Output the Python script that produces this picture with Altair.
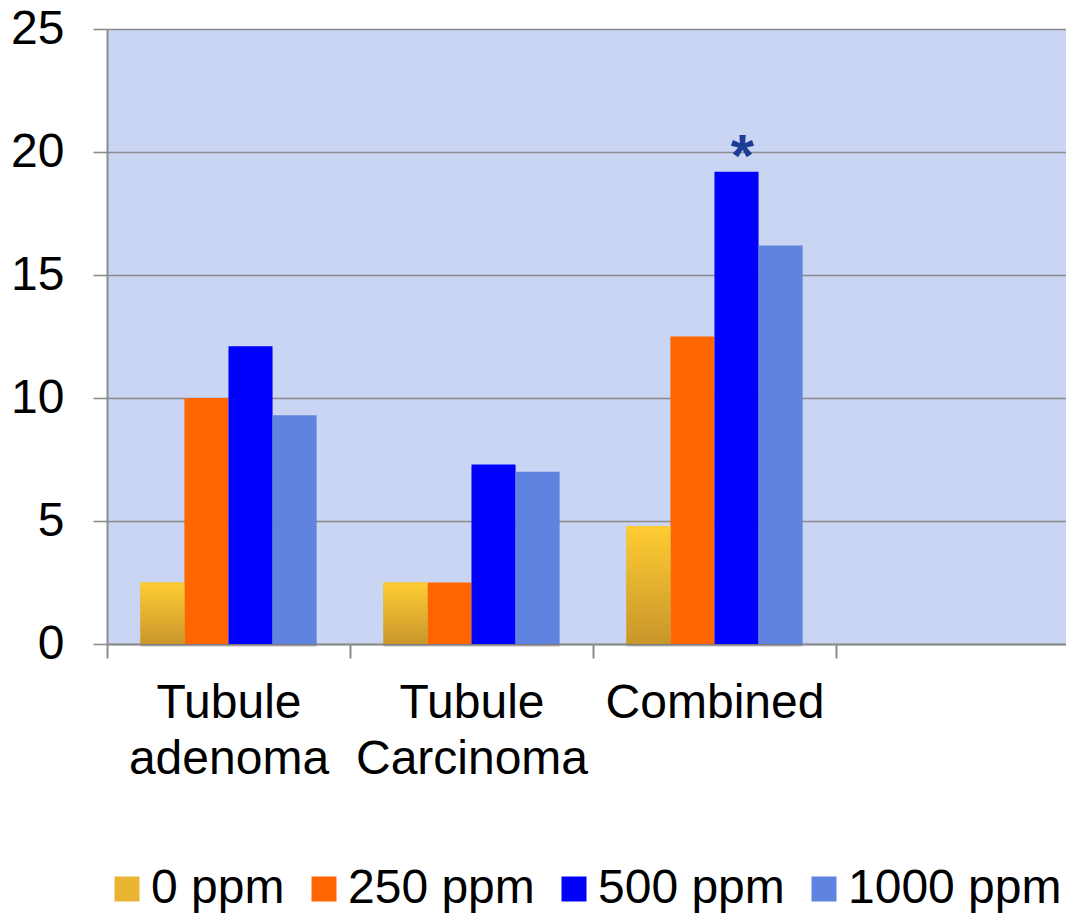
import altair as alt
import pandas as pd

# ---- data ----
categories = ["Tubule adenoma", "Tubule Carcinoma", "Combined"]
series = ["0 ppm", "250 ppm", "500 ppm", "1000 ppm"]
adenoma = [2.5, 10.0, 12.1, 9.3]
carcinoma = [2.5, 2.5, 7.3, 7.0]
combined = [4.8, 12.5, 19.2, 16.2]
y_ticks = [0, 5, 10, 15, 20, 25]
star_category = "Combined"
star_series = "500 ppm"
star_label = "*"

# ---- styles ----
colors = ["#E8B432", "#FF6600", "#0000FF", "#5F83DE"]
grad_top = "#FFCC33"
grad_bottom = "#C8962A"
bg_color = "#C9D5F3"
axis_gray = "#8C8C8C"
FONT = "Liberation Sans"
FS = 48

rows = []
for cat, vals in zip(categories, [adenoma, carcinoma, combined]):
    for s, v in zip(series, vals):
        rows.append({"category": cat, "series": s, "value": v})
df = pd.DataFrame(rows)
star_df = df[(df["category"] == star_category) & (df["series"] == star_series)].assign(label=star_label)

x_domain = categories + [" "]

gradient = alt.Gradient(
    gradient="linear",
    stops=[alt.GradientStop(color=grad_top, offset=0), alt.GradientStop(color=grad_bottom, offset=1)],
    x1=0, x2=0, y1=0, y2=1,
)

x_enc = alt.X(
    "category:N",
    scale=alt.Scale(domain=x_domain, paddingInner=0, paddingOuter=0, range=[0, 972]),
    axis=alt.Axis(
        title=None, labelAngle=0, tickBand="extent", grid=False,
        labelExpr="split(datum.label, ' ')", labelLimit=600,
        labelFont=FONT, labelFontSize=FS, labelColor="black",
        labelLineHeight=56, labelPadding=21, labelBaseline="top",
        tickSize=14, tickColor=axis_gray, tickWidth=2,
        domainColor=axis_gray, domainWidth=2,
    ),
)
xo_enc = alt.XOffset("series:N", scale=alt.Scale(domain=series, paddingInner=0, paddingOuter=0.76))
y_enc = alt.Y(
    "value:Q",
    scale=alt.Scale(domain=[0, 25], nice=False),
    axis=alt.Axis(
        title=None, values=y_ticks, grid=True, gridColor=axis_gray, gridWidth=1.6,
        labelFont=FONT, labelFontSize=FS, labelColor="black", labelPadding=29,
        tickSize=14, tickColor=axis_gray, tickWidth=1.6,
        domainColor=axis_gray, domainWidth=2,
    ),
)

legend = alt.Legend(
    title=None, orient="none", legendX=-4, legendY=836, direction="horizontal",
    symbolType="square", symbolSize=625, symbolStrokeWidth=0,
    labelFont=FONT, labelFontSize=FS, labelColor="black", labelOffset=0,
    columnPadding=15, padding=0, labelLimit=400,
)

shadow = alt.Chart(df).mark_bar(
    color="black", opacity=0.12, yOffset=3, y2Offset=3
).encode(
    x=x_enc,
    xOffset=xo_enc,
    y=y_enc,
)

bars = alt.Chart(df).mark_bar(opacity=1).encode(
    x=alt.X("category:N"),
    xOffset=alt.XOffset("series:N"),
    y=alt.Y("value:Q"),
    color=alt.Color("series:N", scale=alt.Scale(domain=series, range=colors), legend=legend),
)

grad_bars = alt.Chart(df).transform_filter(
    alt.datum.series == series[0]
).mark_bar(color=gradient, opacity=1).encode(
    x=alt.X("category:N"),
    xOffset=alt.XOffset("series:N"),
    y=alt.Y("value:Q"),
)

star = alt.Chart(star_df).mark_text(
    font=FONT, fontSize=60, fontWeight="bold", color="#1E3C96",
    baseline="alphabetic", align="center", dy=4, dx=6,
).encode(
    x=alt.X("category:N"),
    xOffset=alt.XOffset("series:N"),
    y=alt.Y("value:Q"),
    text="label:N",
)

chart = alt.layer(shadow, bars, grad_bars, star).properties(
    width=959, height=615,
    autosize=alt.AutoSizeParams(type="none"),
    padding={"left": 107, "top": 29, "right": 0, "bottom": 269},
    background="white",
).configure_view(fill=bg_color, strokeWidth=0)

chart.save("out.html", embed_options={"renderer": "svg", "actions": False})
